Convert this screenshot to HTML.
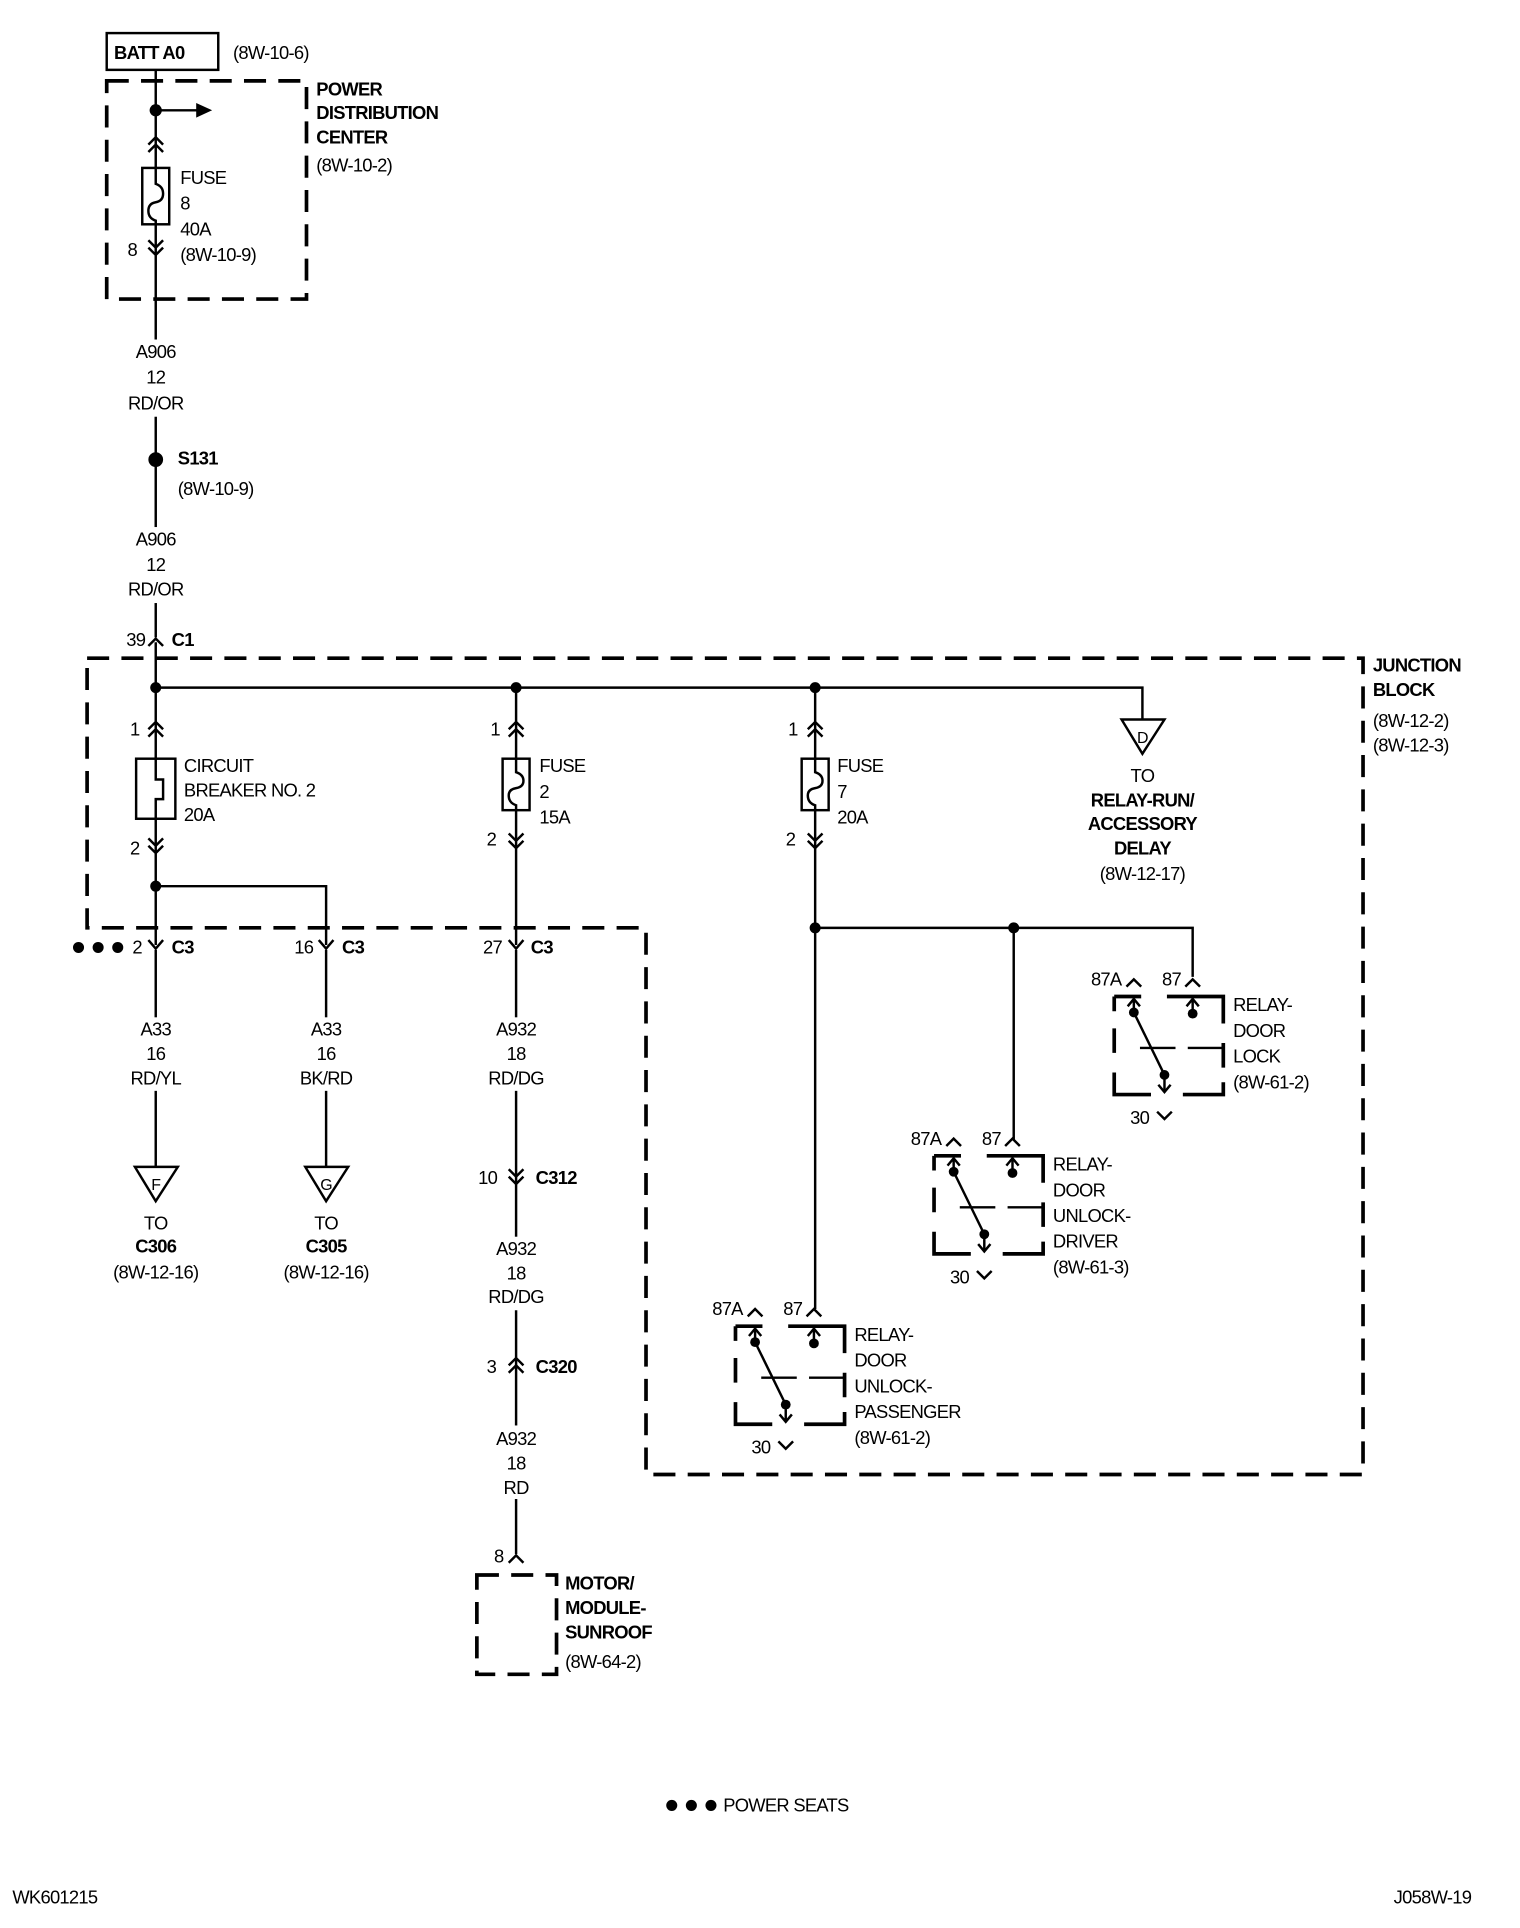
<!DOCTYPE html>
<html><head><meta charset="utf-8"><style>
html,body{margin:0;padding:0;background:#fff;}
svg{display:block;}
text{font-family:"Liberation Sans",Arial,sans-serif;font-size:15px;fill:#000;letter-spacing:-0.6px;}
.b{font-weight:bold;}
.m{text-anchor:middle;}
</style></head><body>
<svg width="1520" height="1928" viewBox="0 0 1240 1573" xmlns="http://www.w3.org/2000/svg">
<defs>
<g id="up"><path d="M-6,5 L0,-1 L6,5" fill="none" stroke="#000" stroke-width="2"/></g>
<g id="dup"><path d="M-6,4 L0,-2 L6,4 M-6,10 L0,4 L6,10" fill="none" stroke="#000" stroke-width="2"/></g>
<g id="ddn"><path d="M-6,-4 L0,2 L6,-4 M-6,-10 L0,-4 L6,-10" fill="none" stroke="#000" stroke-width="2"/></g>
<g id="yv"><path d="M-6,-6 L0,1 L6,-6" fill="none" stroke="#000" stroke-width="2"/></g>
<g id="relay">
<path d="M0,0 L22,0 M43,0 L89,0 L89,22 M89,38 L89,58 M89,70 L89,80 L56,80 M30,80 L0,80 L0,62 M0,46 L0,26 M0,12 L0,0" stroke="#000" stroke-width="3" fill="none"/>
<use href="#up" x="16" y="-13"/><use href="#up" x="64" y="-13"/>
<path d="M16,13 L16,3 M64,14 L64,3 M16,13 L41,64 L41,78 M21,42 L50,42 M60,42 L89,42" stroke="#000" stroke-width="2" fill="none"/>
<path d="M11,8 L16,2 L21,8 M59,8 L64,2 L69,8 M36,72 L41,78 L46,72" stroke="#000" stroke-width="2" fill="none"/>
<circle cx="16" cy="13" r="4"/><circle cx="64" cy="14" r="4"/><circle cx="41" cy="64" r="4"/>
<text x="-19" y="-9">87A</text><text x="39" y="-9">87</text>
<text x="13" y="104">30</text><path d="M35,94 L41,100 L47,94" stroke="#000" stroke-width="2" fill="none"/>
</g>
</defs>
<g stroke="#000" fill="none">
<rect x="87" y="27" width="91" height="30" stroke-width="2"/>
<rect x="87" y="66" width="163" height="178" stroke-width="3" stroke-dasharray="18 10"/>
<path d="M71,537 L1112,537 L1112,1203 L527,1203 L527,757 L71,757 Z" stroke-width="3" stroke-dasharray="18 10"/>
<rect x="389" y="1285" width="65" height="81" stroke-width="3" stroke-dasharray="18 10"/>
<g stroke-width="2">
<path d="M127,57 L127,520 M127,90 L162,90"/>
<path d="M127,524 L127,771"/>
<path d="M127,561 L932,561 L932,587 M127,723 L266,723 L266,771"/>
<path d="M421,561 L421,771 M421,775 L421,1268 M127,775 L127,952 M266,775 L266,952"/>
<path d="M665,561 L665,1068 M665,757 L973,757 L973,797 M827,757 L827,930"/>
<rect x="116" y="137" width="22" height="46" fill="#fff"/>
<path d="M127,137 L127,150 Q133,152 133,158 Q133,164 127,165 Q121,166 121,172 Q121,178 127,180 L127,183"/>
<rect x="111" y="619" width="32" height="49" fill="#fff"/>
<path d="M127,619 L127,636 L133,636 L133,652 L127,652 L127,668"/>
<rect x="410" y="619" width="22" height="42" fill="#fff"/>
<path d="M421,619 L421,630 Q427,632 427,637 Q427,642 421,643 Q415,644 415,649 Q415,655 421,657 L421,661"/>
<rect x="654" y="619" width="22" height="42" fill="#fff"/>
<path d="M665,619 L665,630 Q671,632 671,637 Q671,642 665,643 Q659,644 659,649 Q659,655 665,657 L665,661"/>
<path d="M915,587 L950,587 L932,615 Z"/>
<path d="M110,952 L145,952 L127,980 Z M249,952 L284,952 L266,980 Z"/>
</g>
</g>
<g fill="#fff">
<rect x="100" y="277" width="54" height="63"/><rect x="100" y="430" width="54" height="62"/>
<rect x="100" y="830" width="54" height="60"/><rect x="239" y="830" width="54" height="60"/>
<rect x="392" y="830" width="58" height="60"/><rect x="392" y="1009" width="58" height="60"/>
<rect x="392" y="1163" width="58" height="60"/>
</g>
<path d="M160,84 L173,90 L160,96 Z"/>
<circle cx="127" cy="90" r="5"/><circle cx="127" cy="375" r="6"/>
<circle cx="127" cy="561" r="4.5"/><circle cx="421" cy="561" r="4.5"/><circle cx="665" cy="561" r="4.5"/>
<circle cx="127" cy="723" r="4.5"/><circle cx="665" cy="757" r="4.5"/><circle cx="827" cy="757" r="4.5"/>
<use href="#dup" x="127" y="114"/><use href="#ddn" x="127" y="206"/>
<use href="#up" x="127" y="522"/>
<use href="#dup" x="127" y="591"/><use href="#ddn" x="127" y="694"/>
<use href="#dup" x="421" y="591"/><use href="#ddn" x="421" y="690"/>
<use href="#dup" x="665" y="591"/><use href="#ddn" x="665" y="690"/>
<use href="#yv" x="127" y="773"/><use href="#yv" x="266" y="773"/><use href="#yv" x="421" y="773"/>
<use href="#ddn" x="421" y="964"/><use href="#dup" x="421" y="1110"/>
<use href="#up" x="421" y="1270"/>
<use href="#relay" x="909" y="813"/>
<use href="#relay" x="762" y="943"/>
<use href="#relay" x="600" y="1082"/>

<text x="93" y="48" class="b">BATT A0</text><text x="190" y="48">(8W-10-6)</text>
<text x="258" y="78" class="b">POWER</text><text x="258" y="97" class="b">DISTRIBUTION</text><text x="258" y="117" class="b">CENTER</text><text x="258" y="140">(8W-10-2)</text>
<text x="147" y="150">FUSE</text><text x="147" y="171">8</text><text x="147" y="192">40A</text><text x="147" y="213">(8W-10-9)</text>
<text x="104" y="209">8</text>
<text x="127" y="292" class="m">A906</text><text x="127" y="313" class="m">12</text><text x="127" y="334" class="m">RD/OR</text>
<text x="145" y="379" class="b">S131</text><text x="145" y="404">(8W-10-9)</text>
<text x="127" y="445" class="m">A906</text><text x="127" y="466" class="m">12</text><text x="127" y="486" class="m">RD/OR</text>
<text x="103" y="527">39</text><text x="140" y="527" class="b">C1</text>
<text x="1120" y="548" class="b">JUNCTION</text><text x="1120" y="568" class="b">BLOCK</text><text x="1120" y="593">(8W-12-2)</text><text x="1120" y="613">(8W-12-3)</text>
<text x="932" y="606" class="m" style="font-size:13px">D</text>
<text x="932" y="638" class="m">TO</text><text x="932" y="658" class="m b">RELAY-RUN/</text><text x="932" y="677" class="m b">ACCESSORY</text><text x="932" y="697" class="m b">DELAY</text><text x="932" y="718" class="m">(8W-12-17)</text>
<text x="106" y="600">1</text><text x="106" y="697">2</text>
<text x="150" y="630">CIRCUIT</text><text x="150" y="650">BREAKER NO. 2</text><text x="150" y="670">20A</text>
<text x="400" y="600">1</text><text x="397" y="690">2</text>
<text x="440" y="630">FUSE</text><text x="440" y="651">2</text><text x="440" y="672">15A</text>
<text x="643" y="600">1</text><text x="641" y="690">2</text>
<text x="683" y="630">FUSE</text><text x="683" y="651">7</text><text x="683" y="672">20A</text>
<circle cx="64" cy="773" r="4.5"/><circle cx="80" cy="773" r="4.5"/><circle cx="96" cy="773" r="4.5"/>
<text x="108" y="778">2</text><text x="140" y="778" class="b">C3</text>
<text x="240" y="778">16</text><text x="279" y="778" class="b">C3</text>
<text x="394" y="778">27</text><text x="433" y="778" class="b">C3</text>
<text x="127" y="845" class="m">A33</text><text x="127" y="865" class="m">16</text><text x="127" y="885" class="m">RD/YL</text>
<text x="266" y="845" class="m">A33</text><text x="266" y="865" class="m">16</text><text x="266" y="885" class="m">BK/RD</text>
<text x="421" y="845" class="m">A932</text><text x="421" y="865" class="m">18</text><text x="421" y="885" class="m">RD/DG</text>
<text x="127" y="971" class="m" style="font-size:13px">F</text><text x="266" y="971" class="m" style="font-size:13px">G</text>
<text x="127" y="1003" class="m">TO</text><text x="127" y="1022" class="m b">C306</text><text x="127" y="1043" class="m">(8W-12-16)</text>
<text x="266" y="1003" class="m">TO</text><text x="266" y="1022" class="m b">C305</text><text x="266" y="1043" class="m">(8W-12-16)</text>
<text x="390" y="966">10</text><text x="437" y="966" class="b">C312</text>
<text x="421" y="1024" class="m">A932</text><text x="421" y="1044" class="m">18</text><text x="421" y="1063" class="m">RD/DG</text>
<text x="397" y="1120">3</text><text x="437" y="1120" class="b">C320</text>
<text x="421" y="1179" class="m">A932</text><text x="421" y="1199" class="m">18</text><text x="421" y="1219" class="m">RD</text>
<text x="403" y="1275">8</text>
<text x="461" y="1297" class="b">MOTOR/</text><text x="461" y="1317" class="b">MODULE-</text><text x="461" y="1337" class="b">SUNROOF</text><text x="461" y="1361">(8W-64-2)</text>
<text x="1006" y="825">RELAY-</text><text x="1006" y="846">DOOR</text><text x="1006" y="867">LOCK</text><text x="1006" y="888">(8W-61-2)</text>
<text x="859" y="955">RELAY-</text><text x="859" y="976">DOOR</text><text x="859" y="997">UNLOCK-</text><text x="859" y="1018">DRIVER</text><text x="859" y="1039">(8W-61-3)</text>
<text x="697" y="1094">RELAY-</text><text x="697" y="1115">DOOR</text><text x="697" y="1136">UNLOCK-</text><text x="697" y="1157">PASSENGER</text><text x="697" y="1178">(8W-61-2)</text>
<circle cx="548" cy="1473" r="4.5"/><circle cx="564" cy="1473" r="4.5"/><circle cx="580" cy="1473" r="4.5"/>
<text x="590" y="1478">POWER SEATS</text>
<text x="10" y="1553">WK601215</text><text x="1137" y="1553">J058W-19</text>
</svg>
</body></html>
